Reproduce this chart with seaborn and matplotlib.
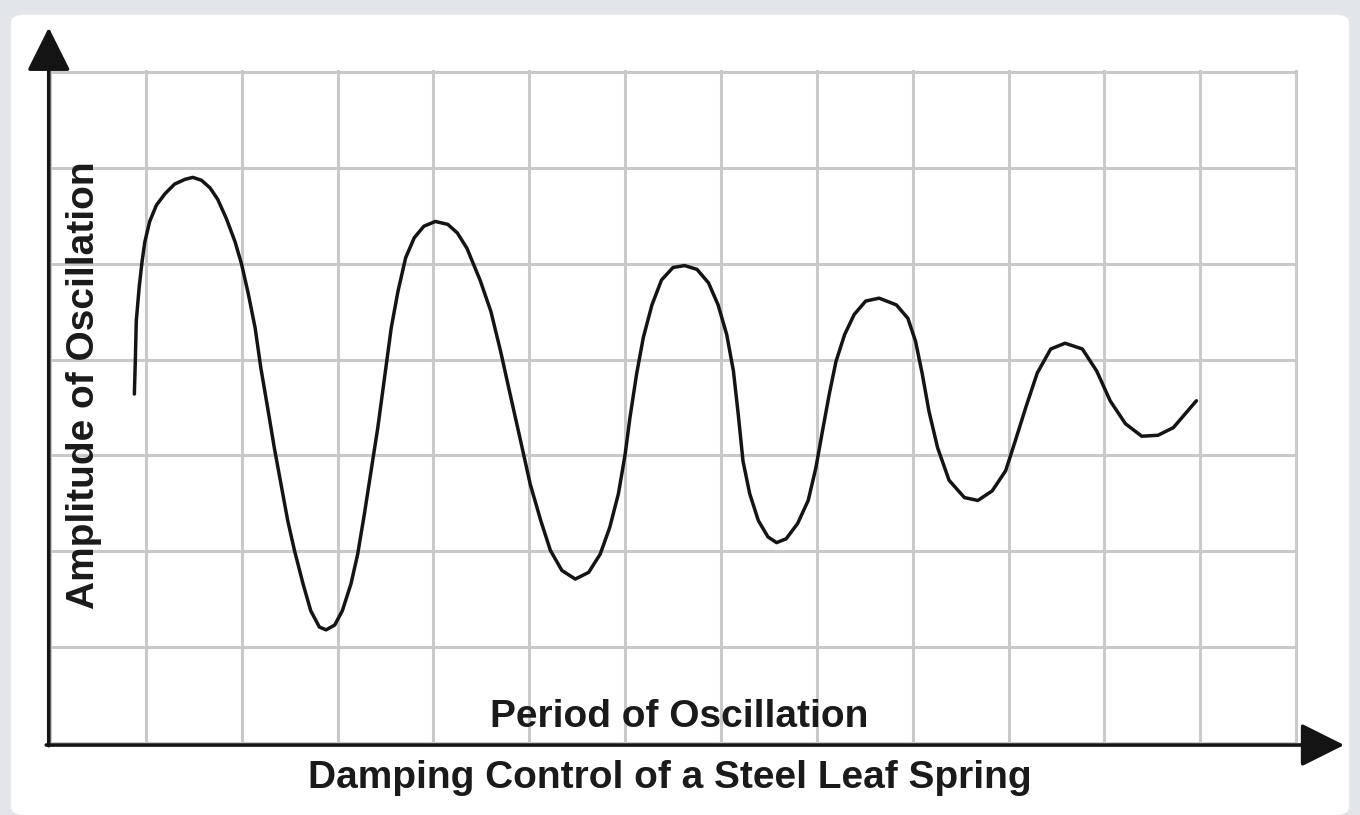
import numpy as np
import pandas as pd
import matplotlib
matplotlib.use("Agg")
import matplotlib.pyplot as plt
from matplotlib.patches import FancyBboxPatch
import seaborn as sns

# curve, in grid squares (13 wide, 7 high)
period = [0.88, 0.89, 0.90, 0.93, 0.96, 0.99, 1.04, 1.11, 1.20, 1.30, 1.41, 1.49,
          1.58, 1.67, 1.75, 1.84, 1.93, 2.00, 2.07, 2.14, 2.20, 2.27, 2.34, 2.41,
          2.48, 2.55, 2.64, 2.72, 2.81, 2.88, 2.97, 3.05, 3.14, 3.21, 3.28, 3.35,
          3.42, 3.49, 3.56, 3.63, 3.71, 3.80, 3.90, 4.02, 4.15, 4.25, 4.35,
          4.49, 4.60, 4.70, 4.80, 4.91, 5.01, 5.12, 5.22, 5.34, 5.48, 5.62, 5.74,
          5.84, 5.93, 6.00, 6.05, 6.12, 6.19, 6.28, 6.38, 6.50, 6.62, 6.75, 6.87,
          6.97, 7.06, 7.13, 7.18, 7.23, 7.30, 7.39, 7.49, 7.58, 7.68, 7.80, 7.91,
          7.99, 8.06, 8.13, 8.20, 8.29, 8.39, 8.51, 8.65, 8.83, 8.95, 9.03, 9.10,
          9.17, 9.26, 9.38, 9.54, 9.68, 9.83, 9.97, 10.07, 10.18, 10.30, 10.44,
          10.59, 10.77, 10.92, 11.06, 11.22, 11.39, 11.56, 11.72, 11.84, 11.96]
amplitude = [3.64, 3.98, 4.40, 4.75, 5.02, 5.23, 5.44, 5.61, 5.73, 5.83, 5.88, 5.90,
             5.87, 5.79, 5.67, 5.47, 5.23, 4.99, 4.68, 4.33, 3.91, 3.50, 3.08, 2.70,
             2.32, 2.01, 1.66, 1.38, 1.21, 1.18, 1.23, 1.38, 1.66, 1.97, 2.39, 2.84,
             3.29, 3.81, 4.33, 4.71, 5.06, 5.27, 5.39, 5.44, 5.41, 5.32, 5.16,
             4.82, 4.50, 4.09, 3.64, 3.15, 2.70, 2.32, 2.01, 1.80, 1.71, 1.78, 1.97,
             2.25, 2.60, 3.01, 3.39, 3.85, 4.23, 4.57, 4.83, 4.96, 4.98, 4.94, 4.80,
             4.57, 4.26, 3.88, 3.43, 2.94, 2.60, 2.32, 2.15, 2.09, 2.13, 2.29, 2.53,
             2.87, 3.26, 3.64, 3.98, 4.26, 4.47, 4.61, 4.64, 4.57, 4.43, 4.19, 3.85,
             3.46, 3.08, 2.74, 2.56, 2.53, 2.63, 2.84, 3.15, 3.50, 3.86, 4.11,
             4.17, 4.11, 3.88, 3.57, 3.33, 3.20, 3.21, 3.29, 3.43, 3.57]

grid_cols = 13
grid_rows = 7

df = pd.DataFrame({"period": period, "amplitude": amplitude})

sns.set_style("white")
plt.rcParams["font.family"] = ["Liberation Sans", "DejaVu Sans"]

fig = plt.figure(figsize=(13.6, 8.15), dpi=100)
fig.patch.set_facecolor("#e2e5ea")
card = FancyBboxPatch((0.008, 0), 0.984, 0.982, boxstyle="round,pad=0,rounding_size=0.01",
                      transform=fig.transFigure, facecolor="white", edgecolor="none", zorder=-5)
fig.patches.append(card)

ax = fig.add_axes([50 / 1360, 1 - 743 / 815, 1248 / 1360, 673 / 815])
ax.set_zorder(2)
ax.set_facecolor("none")

sns.lineplot(data=df, x="period", y="amplitude", ax=ax, color="#141414", lw=2.5,
             sort=False, estimator=None, zorder=3,
             solid_joinstyle="round", solid_capstyle="round")

ax.set_xlim(0, grid_cols + 0.02)
ax.set_ylim(0, grid_rows + 0.02)
ax.set_xticks(np.arange(0, grid_cols + 1))
ax.set_yticks(np.arange(0, grid_rows + 1))
ax.grid(True, color="#c9c9c9", lw=2.2)
ax.tick_params(length=0, labelbottom=False, labelleft=False)
ax.set_xlabel("")
ax.set_ylabel("")
for s in ["top", "right", "left", "bottom"]:
    ax.spines[s].set_visible(False)

# axis arrows
arrow = dict(arrowstyle="-|>,head_length=0.9,head_width=0.45", color="#141414", lw=2.6,
             mutation_scale=30, shrinkA=0, shrinkB=0)
ax.annotate("", xy=(-0.001, 1.063), xytext=(-0.001, -0.004), xycoords="axes fraction",
            textcoords="axes fraction", arrowprops=arrow, annotation_clip=False)
ax.annotate("", xy=(1.037, -0.003), xytext=(-0.003, -0.003), xycoords="axes fraction",
            textcoords="axes fraction", arrowprops=arrow, annotation_clip=False)

ax.text(0.504, 0.038, "Period of Oscillation", transform=ax.transAxes, ha="center", va="center",
        fontsize=28, fontweight="bold", color="#1a1a1a", zorder=4)
ax.text(0.027, 0.532, "Amplitude of Oscillation", transform=ax.transAxes, ha="center", va="center",
        rotation=90, fontsize=28, fontweight="bold", color="#1a1a1a", zorder=4)
fig.text(670 / 1360, 1 - 778 / 815, "Damping Control of a Steel Leaf Spring", ha="center", va="center",
         fontsize=28, fontweight="bold", color="#1a1a1a")

fig.savefig("out.png", dpi=100, facecolor=fig.get_facecolor())
